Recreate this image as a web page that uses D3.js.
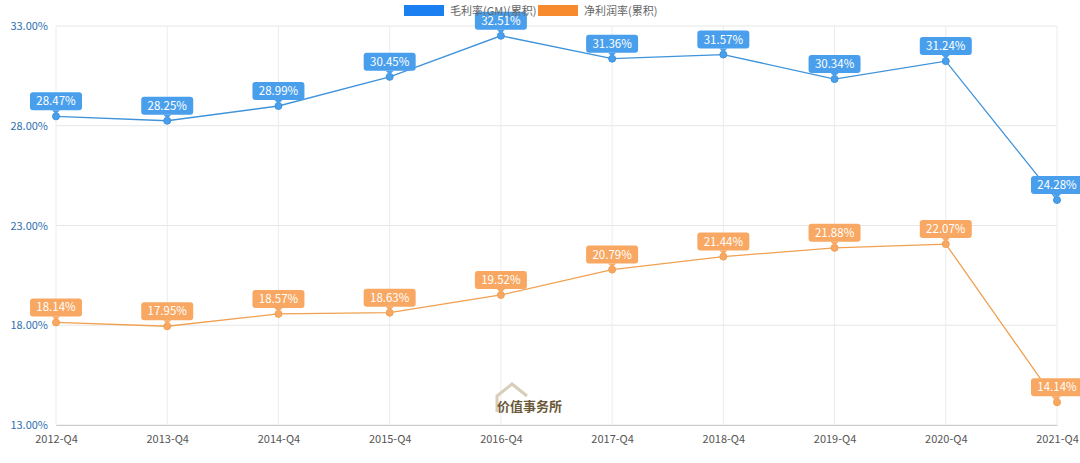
<!DOCTYPE html>
<html>
<head>
<meta charset="UTF-8">
<style>body{margin:0;background:#fff}text{font-family:"Noto Sans CJK SC","Noto Sans",sans-serif}</style>
</head>
<body>
<svg width="1080" height="463"></svg>
<script src="https://d3js.org/d3.v7.min.js"></script>
<script>
var categories = ["2012-Q4","2013-Q4","2014-Q4","2015-Q4","2016-Q4","2017-Q4","2018-Q4","2019-Q4","2020-Q4","2021-Q4"];
var grossMargin = [28.47,28.25,28.99,30.45,32.51,31.36,31.57,30.34,31.24,24.28];
var netMargin = [18.14,17.95,18.57,18.63,19.52,20.79,21.44,21.88,22.07,14.14];
var yTicks = [13,18,23,28,33];
var seriesNames = ["毛利率(GM)(累积)","净利润率(累积)"];

var svg = d3.select("svg");
var mLeft = 56, mRight = 1057, mTop = 26, mBottom = 425;

var x = d3.scalePoint().domain(categories).range([mLeft, mRight]);
var y = d3.scaleLinear().domain([13,33]).range([mBottom, mTop]);

// grid
svg.append("g").selectAll("line").data(yTicks).enter().append("line")
  .attr("x1", mLeft).attr("x2", mRight).attr("y1", d => y(d)).attr("y2", d => y(d))
  .attr("stroke", "#e6e6e6");
svg.append("g").selectAll("line").data(categories).enter().append("line")
  .attr("x1", d => x(d)).attr("x2", d => x(d)).attr("y1", mTop).attr("y2", mBottom)
  .attr("stroke", "#ececec");

var xAxis = svg.append("g").attr("transform", "translate(0," + mBottom + ")")
  .call(d3.axisBottom(x).tickSize(0).tickPadding(10));
xAxis.select(".domain").attr("stroke", "#ccc");
xAxis.selectAll("text").attr("fill", "#555").attr("font-size", 11);

var yAxis = svg.append("g").attr("transform", "translate(" + mLeft + ",0)")
  .call(d3.axisLeft(y).tickValues(yTicks).tickSize(0).tickPadding(8).tickFormat(d => d.toFixed(2) + "%"));
yAxis.select(".domain").remove();
yAxis.selectAll("text").attr("fill", "#2f6fb0").attr("font-size", 11);

// watermark
svg.append("path").attr("d","M497,412 L497,396 L512,384 L527,396").attr("fill","none").attr("stroke","#d8cdb8").attr("stroke-width",3);
svg.append("text").attr("x", 497).attr("y", 411).attr("font-size", 13).attr("fill", "#6a5a3a")
  .attr("font-weight", "bold").text("价值事务所");

function drawSeries(data, lineColor, boxColor) {
  var pts = categories.map((c, i) => [x(c), y(data[i])]);
  svg.append("path").attr("d", d3.line()(pts)).attr("fill", "none")
    .attr("stroke", lineColor).attr("stroke-width", 1.3);
  svg.append("g").selectAll("circle").data(pts).enter().append("circle")
    .attr("cx", d => d[0]).attr("cy", d => d[1]).attr("r", 3.5)
    .attr("fill", boxColor).attr("stroke", lineColor).attr("stroke-width", 1);
  var lg = svg.append("g").selectAll("g").data(data).enter().append("g")
    .attr("transform", (d, i) => "translate(" + x(categories[i]) + "," + (y(d) - 15) + ")");
  lg.append("rect").attr("x", -26).attr("y", -9).attr("width", 52).attr("height", 18)
    .attr("rx", 3).attr("fill", boxColor);
  lg.append("path").attr("d", "M-4,9 L0,13 L4,9 Z").attr("fill", boxColor);
  lg.append("text").attr("text-anchor", "middle").attr("dy", 4).attr("font-size", 11.5)
    .attr("fill", "#fff").text(d => d.toFixed(2) + "%");
}
drawSeries(grossMargin, "#3f93da", "#4a9fec");
drawSeries(netMargin, "#f0a050", "#f8a863");

// legend
var legendColors = ["#1a7ff0", "#f88a2e"];
var lx = [404, 538];
seriesNames.forEach((n, i) => {
  svg.append("rect").attr("x", lx[i]).attr("y", 5).attr("width", 40).attr("height", 11).attr("fill", legendColors[i]);
  svg.append("text").attr("x", lx[i] + 46).attr("y", 15).attr("font-size", 11).attr("fill", "#666").text(n);
});
</script>
</body>
</html>
